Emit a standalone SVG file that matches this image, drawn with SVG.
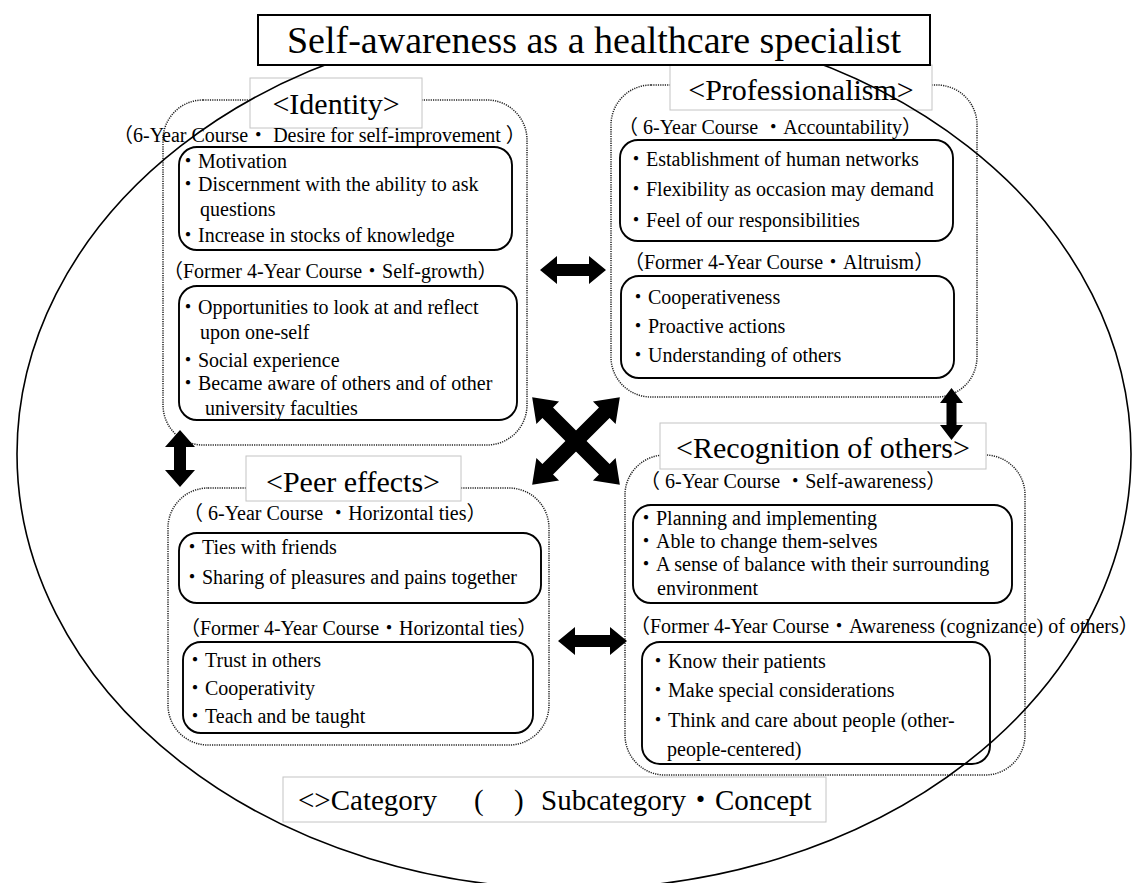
<svg xmlns="http://www.w3.org/2000/svg" width="1146" height="883" viewBox="0 0 1146 883">
<style>
text{font-family:"Liberation Serif","Noto Sans CJK JP",serif;fill:#000}
.c{font-size:20px}
.cat{font-size:30px}
.dot{fill:none;stroke:#222;stroke-width:1.5;stroke-dasharray:1.2 1.1}
.inner{fill:none;stroke:#000;stroke-width:1.9}
.lbl{fill:#fff;stroke:#c4c4c4;stroke-width:1}
.arr{fill:#000}
</style>
<rect width="1146" height="883" fill="#fff"/>

<g id="identity">
<rect class="dot" x="163" y="100" width="364" height="345" rx="40"/>
<rect class="lbl" x="250" y="78" width="172" height="50"/>
<text class="cat" x="336" y="114" text-anchor="middle">&lt;Identity&gt;</text>
<text class="c" x="113" y="142">（6-Year Course・ Desire for self-improvement ）</text>
<rect class="inner" x="179" y="147" width="333" height="103" rx="18"/>
<text class="c" x="178" y="168">・Motivation</text>
<text class="c" x="178" y="191">・Discernment with the ability to ask</text>
<text class="c" x="200" y="216">questions</text>
<text class="c" x="178" y="242">・Increase in stocks of knowledge</text>
<text class="c" x="163" y="278">（Former 4-Year Course・Self-growth）</text>
<rect class="inner" x="179" y="286" width="338" height="134" rx="18"/>
<text class="c" x="178" y="314">・Opportunities to look at and reflect</text>
<text class="c" x="200" y="339">upon one-self</text>
<text class="c" x="178" y="367">・Social experience</text>
<text class="c" x="178" y="390">・Became aware of others and of other</text>
<text class="c" x="205" y="415">university faculties</text>
</g>

<g id="professionalism">
<rect class="dot" x="611" y="85" width="366" height="312" rx="40"/>
<rect class="lbl" x="670" y="65" width="262" height="45"/>
<text class="cat" x="801" y="100" text-anchor="middle">&lt;Professionalism&gt;</text>
<text class="c" x="618" y="134">（ 6-Year Course ・Accountability）</text>
<rect class="inner" x="620" y="140" width="333" height="101" rx="18"/>
<text class="c" x="626" y="166">・Establishment of human networks</text>
<text class="c" x="626" y="196">・Flexibility as occasion may demand</text>
<text class="c" x="626" y="227">・Feel of our responsibilities</text>
<text class="c" x="624" y="269">（Former 4-Year Course・Altruism）</text>
<rect class="inner" x="621" y="276" width="333" height="102" rx="18"/>
<text class="c" x="628" y="304">・Cooperativeness</text>
<text class="c" x="628" y="333">・Proactive actions</text>
<text class="c" x="628" y="362">・Understanding of others</text>
</g>

<g id="recognition">
<rect class="dot" x="625" y="455" width="400" height="320" rx="40"/>
<rect class="lbl" x="660" y="423" width="326" height="46"/>
<text class="cat" x="823" y="458" text-anchor="middle">&lt;Recognition of others&gt;</text>
<text class="c" x="640" y="488">（ 6-Year Course ・Self-awareness）</text>
<rect class="inner" x="633" y="505" width="379" height="98" rx="18"/>
<text class="c" x="636" y="525">・Planning and implementing</text>
<text class="c" x="636" y="548">・Able to change them-selves</text>
<text class="c" x="636" y="571">・A sense of balance with their surrounding</text>
<text class="c" x="657" y="595">environment</text>
<text class="c" x="630" y="633">（Former 4-Year Course・Awareness (cognizance) of others）</text>
<rect class="inner" x="642" y="642" width="348" height="122" rx="18"/>
<text class="c" x="648" y="668">・Know their patients</text>
<text class="c" x="648" y="697">・Make special considerations</text>
<text class="c" x="648" y="727">・Think and care about people (other-</text>
<text class="c" x="667" y="756">people-centered)</text>
</g>

<g id="peer">
<rect class="dot" x="168" y="488" width="381" height="257" rx="40"/>
<rect class="lbl" x="246" y="456" width="215" height="45"/>
<text class="cat" x="353" y="492" text-anchor="middle">&lt;Peer effects&gt;</text>
<text class="c" x="183" y="520">（ 6-Year Course ・Horizontal ties）</text>
<rect class="inner" x="179" y="533" width="362" height="70" rx="18"/>
<text class="c" x="182" y="554">・Ties with friends</text>
<text class="c" x="182" y="584">・Sharing of pleasures and pains together</text>
<text class="c" x="180" y="635">（Former 4-Year Course・Horizontal ties）</text>
<rect class="inner" x="183" y="642" width="350" height="91" rx="18"/>
<text class="c" x="185" y="667">・Trust in others</text>
<text class="c" x="185" y="695">・Cooperativity</text>
<text class="c" x="185" y="723">・Teach and be taught</text>
</g>

<g id="legend">
<rect class="lbl" x="283" y="777" width="543" height="45"/>
<text y="810" font-size="29"><tspan x="298">&lt;&gt;Category</tspan><tspan x="474">(</tspan><tspan x="514">)</tspan><tspan x="541">Subcategory・Concept</tspan></text>
</g>

<g id="connectors">
<polygon class="arr" points="540,270 557,256 557,264 589,264 589,256 606,270 589,284 589,276 557,276 557,284"/>
<polygon class="arr" points="558,641 575,627 575,635 610,635 610,627 627,641 610,655 610,647 575,647 575,655"/>
<polygon class="arr" points="180,430 195,447 186,447 186,470 195,470 180,487 165,470 174,470 174,447 165,447"/>
<polygon class="arr" points="951.5,388 963,403 956.5,403 956.5,425 963,425 951.5,440 940,425 946.5,425 946.5,403 940,403"/>
<g transform="translate(576,441)">
<polygon class="arr" transform="rotate(45)" points="-62,0 -40,-16 -40,-7.5 40,-7.5 40,-16 62,0 40,16 40,7.5 -40,7.5 -40,16"/>
<polygon class="arr" transform="rotate(-45)" points="-62,0 -40,-16 -40,-7.5 40,-7.5 40,-16 62,0 40,16 40,7.5 -40,7.5 -40,16"/>
</g>
</g>

<ellipse id="outline" cx="574" cy="454" rx="557" ry="435" fill="none" stroke="#000" stroke-width="1.6"/>

<g id="title">
<rect x="258" y="15" width="672" height="50" fill="#fff" stroke="#000" stroke-width="2"/>
<text x="594" y="53" text-anchor="middle" font-size="38">Self-awareness as a healthcare specialist</text>
</g>
</svg>
